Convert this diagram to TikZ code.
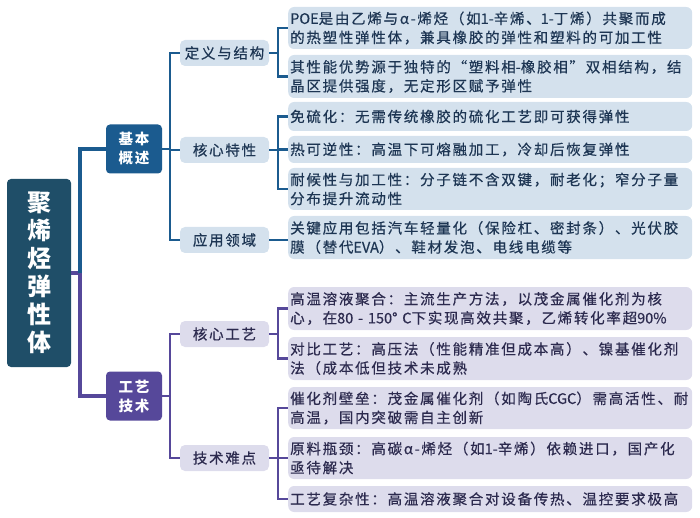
\documentclass[tikz,border=0pt]{standalone}
\usepackage{fontspec}
\setmainfont{Noto Sans CJK SC}[LetterSpace=12]
\newfontfamily\leaffont{Noto Sans CJK SC}[LetterSpace=12,FakeBold=0.5]
\newcommand{\en}[1]{{\addfontfeature{LetterSpace=0}#1}}
\usetikzlibrary{positioning}
\definecolor{rootc}{HTML}{1F4E68}
\definecolor{basec}{HTML}{1B5B8F}
\definecolor{techc}{HTML}{56489A}
\definecolor{bfill}{HTML}{D4E1ED}
\definecolor{pfill}{HTML}{DDDCEC}
\definecolor{btext}{HTML}{1D3553}
\definecolor{ptext}{HTML}{2C2A4E}

\begin{document}
\begin{tikzpicture}[x=1pt,y=-1pt,
  rootbox/.style={fill=rootc,text=white,rounded corners=4pt,minimum width=64pt,minimum height=188pt,align=center,font=\fontsize{24}{28}\selectfont\bfseries},
  hbox/.style={rounded corners=4pt,text=white,minimum width=56pt,minimum height=49pt,align=center,font=\fontsize{14.5}{19}\selectfont\bfseries},
  sub/.style={rounded corners=5pt,minimum width=89pt,minimum height=26pt,font=\fontsize{14.5}{19}\selectfont\leaffont},
  bsub/.style={sub,fill=bfill,text=btext},
  psub/.style={sub,fill=pfill,text=ptext},
  leaf/.style={rounded corners=6pt,anchor=west,text width=400pt,inner xsep=2pt,align=left,font=\fontsize{14.5}{19}\selectfont\leaffont},
  bleaf/.style={leaf,fill=bfill,text=btext},
  pleaf/.style={leaf,fill=pfill,text=ptext},
  bline/.style={draw=basec,line width=2.2pt},
  pline/.style={draw=techc,line width=2.2pt}]
\useasboundingbox (0,0) rectangle (700,518);

% root and first level
\node[rootbox] (root) at (39,273) {聚\\烯\\烃\\弹\\性\\体};
\node[hbox,fill=basec] (basic) at (134,149) {基本\\概述};
\node[hbox,fill=techc] (tech) at (134,396) {工艺\\技术};

% second level
\node[bsub] (def) at (224.5,53) {定义与结构};
\node[bsub] (core) at (224.5,150) {核心特性};
\node[bsub] (app) at (224.5,240) {应用领域};
\node[psub] (proc) at (224.5,334) {核心工艺};
\node[psub] (diff) at (224.5,458) {技术难点};

% leaves
\node[bleaf,minimum height=42pt] (l1) at (288,28) {\en{POE}是由乙烯与α-烯烃（如\en{1-}辛烯、\en{1-}丁烯）共聚而成\\的热塑性弹性体，兼具橡胶的弹性和塑料的可加工性};
\node[bleaf,minimum height=43pt] (l2) at (288,76.5) {其性能优势源于独特的“塑料相\mbox{-}橡胶相”双相结构，结\\晶区提供强度，无定形区赋予弹性};
\node[bleaf,minimum height=29pt] (l3) at (288,116.5) {免硫化：无需传统橡胶的硫化工艺即可获得弹性};
\node[bleaf,minimum height=27pt] (l4) at (288,149.5) {热可逆性：高温下可熔融加工，冷却后恢复弹性};
\node[bleaf,minimum height=42pt] (l5) at (288,189) {耐候性与加工性：分子链不含双键，耐老化；窄分子量\\分布提升流动性};
\node[bleaf,minimum height=43pt] (l6) at (288,237.5) {关键应用包括汽车轻量化（保险杠、密封条）、光伏胶\\膜（替代\en{EVA}）、鞋材发泡、电线电缆等};
\node[pleaf,minimum height=43pt] (l7) at (288,308.5) {高温溶液聚合：主流生产方法，以茂金属催化剂为核\\心，在\en{80 - 150° C}下实现高效共聚，乙烯转化率超\en{90\%}};
\node[pleaf,minimum height=43pt] (l8) at (288,358.5) {对比工艺：高压法（性能精准但成本高）、镍基催化剂\\法（成本低但技术未成熟};
\node[pleaf,minimum height=42pt] (l9) at (288,408) {催化剂壁垒：茂金属催化剂（如陶氏\en{CGC}）需高活性、耐\\高温，国内突破需自主创新};
\node[pleaf,minimum height=42pt] (l10) at (288,458) {原料瓶颈：高碳α-烯烃（如\en{1-}辛烯）依赖进口，国产化\\亟待解决};
\node[pleaf,minimum height=26pt] (l11) at (288,499) {工艺复杂性：高温溶液聚合对设备传热、温控要求极高};

% connectors
\draw[pline,line width=3.6pt] (root.east) -- ++(9,0) coordinate (rj) |- (tech.west);
\draw[bline,line width=3.6pt] (rj) |- (basic.west);
\draw[bline] (basic.east) -- ++(8,0) coordinate (bj);
\foreach \n in {def,core,app} \draw[bline] (bj) |- (\n.west);
\draw[pline] (tech.east) -- ++(8,0) coordinate (tj);
\foreach \n in {proc,diff} \draw[pline] (tj) |- (\n.west);
\draw[bline] (def.east) -- ++(9,0) coordinate (dj);
\foreach \n in {l1,l2} \draw[bline] (dj) |- (\n.west);
\draw[bline] (core.east) -- ++(9,0) coordinate (cj);
\foreach \n in {l3,l4,l5} \draw[bline] (cj) |- (\n.west);
\draw[bline] (app.east) -- (app.east -| l6.west);
\draw[pline] (proc.east) -- ++(9,0) coordinate (pj);
\foreach \n in {l7,l8} \draw[pline] (pj) |- (\n.west);
\draw[pline] (diff.east) -- ++(9,0) coordinate (xj);
\foreach \n in {l9,l10,l11} \draw[pline] (xj) |- (\n.west);
\end{tikzpicture}
\end{document}
